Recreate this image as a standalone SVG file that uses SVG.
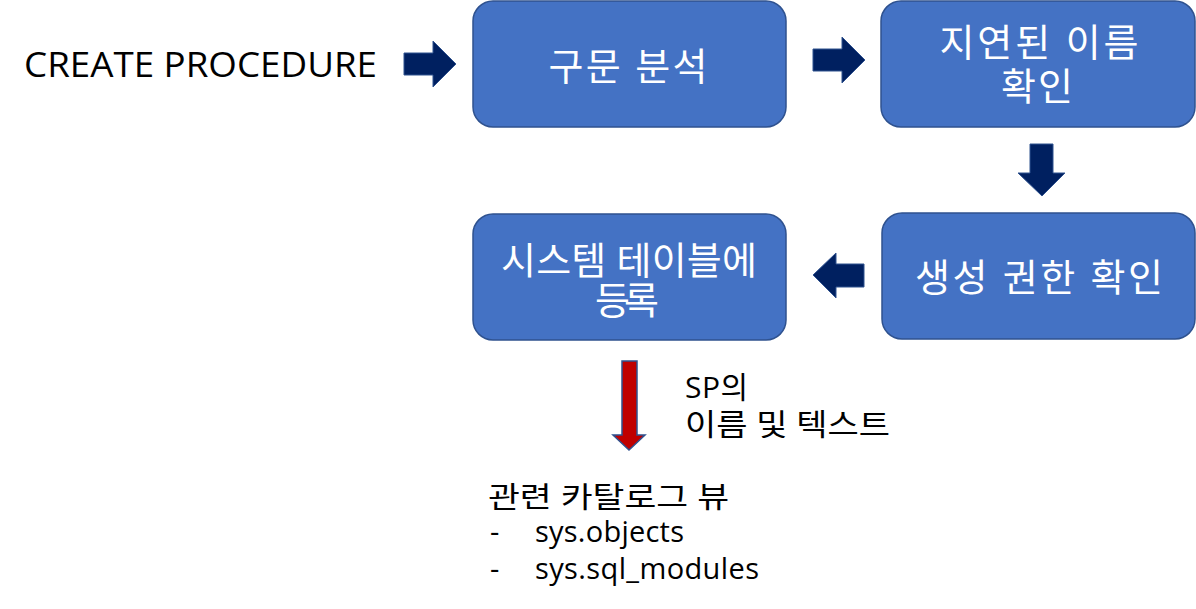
<svg xmlns="http://www.w3.org/2000/svg" width="1196" height="609" viewBox="0 0 1196 609">
<style>
.box{fill:#4472C4;stroke:#2F528F;stroke-width:1.5}
.bt{font-family:"Open Sans","Noto Sans CJK KR",sans-serif;font-size:38px;fill:#FFFFFF;text-anchor:middle}
.t{font-family:"Open Sans","Noto Sans CJK KR",sans-serif;fill:#000000}
.arr{fill:#002060;stroke:#2F528F;stroke-width:1}
.red{fill:#C00000;stroke:#2F528F;stroke-width:1.5}
</style>
<rect width="1196" height="609" fill="#FFFFFF"/>
<text class="t" x="24" y="77" font-size="34" textLength="353" lengthAdjust="spacingAndGlyphs">CREATE PROCEDURE</text>
<g id="n1">
<rect class="box" x="473" y="1" width="313" height="126" rx="20"/>
<text class="bt" x="628" y="80" textLength="159">구문 분석</text>
</g>
<g id="n2">
<rect class="box" x="881" y="1" width="314" height="126" rx="20"/>
<text class="bt" x="1039" y="56" textLength="199">지연된 이름</text>
<text class="bt" x="1037" y="100" textLength="72">확인</text>
</g>
<g id="n3">
<rect class="box" x="882" y="213" width="313" height="126" rx="20"/>
<text class="bt" x="1039" y="291" textLength="248">생성 권한 확인</text>
</g>
<g id="n4">
<rect class="box" x="473" y="214" width="313" height="126" rx="20"/>
<text class="bt" x="629" y="274" textLength="256">시스템 테이블에</text>
<text class="bt" x="627" y="314" textLength="64">등록</text>
</g>
<g id="connectors">
<polygon class="arr" points="404,53 433,53 433,41 456,64 433,87 433,75 404,75"/>
<polygon class="arr" points="813,49 842,49 842,37 865,60 842,83 842,71 813,71"/>
<polygon class="arr" points="1030,144 1053,144 1053,173 1065,173 1042,196 1018,173 1030,173"/>
<polygon class="arr" points="864,264 836,264 836,253 813,275 836,298 836,287 864,287"/>
<polygon class="red" points="622,361 637,361 637,435 645,435 629,450 613,435 622,435"/>
</g>
<g id="label">
<text class="t" x="685" y="398" font-size="30" textLength="63">SP의</text>
<text class="t" x="685" y="435" font-size="30" textLength="205" lengthAdjust="spacingAndGlyphs">이름 및 텍스트</text>
</g>
<g id="catalog">
<text class="t" x="488" y="508" font-size="29" textLength="241" lengthAdjust="spacingAndGlyphs">관련 카탈로그 뷰</text>
<text class="t" x="490" y="542" font-size="29">-</text>
<text class="t" x="535" y="542" font-size="29" textLength="149">sys.objects</text>
<text class="t" x="490" y="579" font-size="29">-</text>
<text class="t" x="535" y="579" font-size="29" textLength="224">sys.sql_modules</text>
</g>
</svg>
